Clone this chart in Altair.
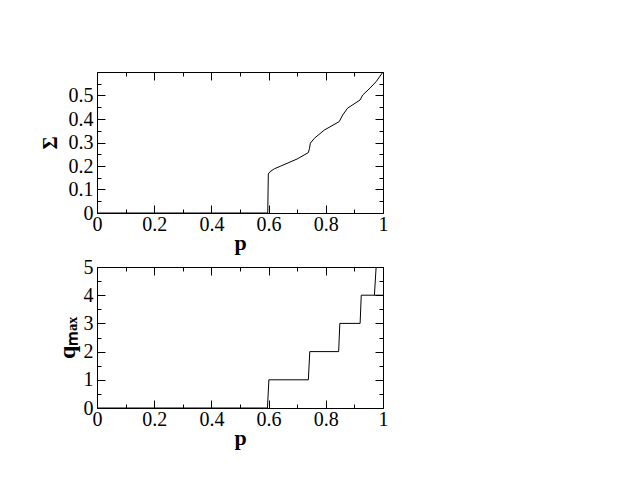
import altair as alt
import pandas as pd

# ---- data ----
p_sigma = [0.0, 0.597, 0.599, 0.605, 0.62, 0.643, 0.70, 0.739, 0.743, 0.746, 0.760,
           0.795, 0.847, 0.859, 0.876, 0.920, 0.929, 0.955, 0.976, 1.0]
sigma = [0.0, 0.0, 0.166, 0.176, 0.188, 0.200, 0.230, 0.257, 0.275, 0.297, 0.318,
         0.353, 0.389, 0.417, 0.446, 0.481, 0.502, 0.532, 0.559, 0.600]

p_q = [0.0, 0.596, 0.601, 0.739, 0.744, 0.845, 0.849, 0.920, 0.924, 1.0]
q_max = [0, 0, 1, 1, 2, 2, 3, 3, 4, 4]
p_q_tail = [0.970, 0.976, 1.0]
q_tail = [4, 5, 5]

x_major = [0, 0.2, 0.4, 0.6, 0.8, 1]
x_minor = [0.1, 0.3, 0.5, 0.7, 0.9]
sig_major = [0, 0.1, 0.2, 0.3, 0.4, 0.5, 0.6]
sig_labels = [0, 0.1, 0.2, 0.3, 0.4, 0.5]
sig_minor = [0.05, 0.15, 0.25, 0.35, 0.45, 0.55]
q_major = [0, 1, 2, 3, 4, 5]
q_minor = [0.5, 1.5, 2.5, 3.5, 4.5]

FONT = "'Liberation Serif', 'Times New Roman', Times, serif"

df_sig = pd.DataFrame({"p": p_sigma, "v": sigma, "s": ["a"] * len(p_sigma)})
df_q = pd.concat([
    pd.DataFrame({"p": p_q, "v": q_max, "s": ["a"] * len(p_q)}),
    pd.DataFrame({"p": p_q_tail, "v": q_tail, "s": ["b"] * len(p_q_tail)}),
], ignore_index=True)


def tick_axis(orient, values, size):
    return alt.Axis(orient=orient, values=values, tickSize=size, offset=-size,
                    labels=False, title=None, domain=False, grid=False,
                    ticks=True, tickColor="black", tickWidth=1)


def panel(df, ydom, ymaj, ymin, ylabvals, ytitle, ytitle_size, ytitle_pad):
    def layer(xaxis, yaxis, opacity):
        return alt.Chart(df).mark_line(color="black", strokeWidth=1,
                                       opacity=opacity, clip=True).encode(
            x=alt.X("p:Q", scale=alt.Scale(domain=[0, 1], nice=False, zero=False),
                    axis=xaxis),
            y=alt.Y("v:Q", scale=alt.Scale(domain=ydom, nice=False, zero=False),
                    axis=yaxis),
            detail="s:N",
        )

    xa = alt.Axis(orient="bottom", values=x_major, tickSize=8, offset=-8,
                  domain=False, grid=False, tickColor="black", tickWidth=1,
                  labelExpr="datum.value + ''", labelFlush=False, labelOverlap=False,
                  labelFont=FONT, labelFontSize=20, labelColor="black", labelPadding=1,
                  title="p", titleFont=FONT, titleFontSize=22, titleFontWeight="bold",
                  titleColor="black", titlePadding=-2)
    ya = alt.Axis(orient="left", values=ylabvals, tickSize=8, offset=-8,
                  domain=False, grid=False, tickColor="black", tickWidth=1,
                  labelExpr="datum.value + ''", labelOverlap=False,
                  labelFont=FONT, labelFontSize=20, labelColor="black", labelPadding=4,
                  title=ytitle, titleFont=FONT, titleFontSize=ytitle_size,
                  titleFontWeight="bold", titleColor="black", titlePadding=ytitle_pad)
    l1 = layer(xa, ya, 1)
    l2 = layer(tick_axis("bottom", x_minor, 4), tick_axis("left", ymin, 4), 0)
    l3 = layer(tick_axis("top", x_major, 8), tick_axis("right", ymaj, 8), 0)
    l4 = layer(tick_axis("top", x_minor, 4), tick_axis("right", ymin, 4), 0)
    return alt.layer(l1, l2, l3, l4).resolve_scale(
        x="independent", y="independent").properties(width=286, height=141)


top = panel(df_sig, [0, 0.6], sig_major, sig_minor, sig_labels, "Σ", 20, 8)
bottom = panel(df_q, [0, 5], q_major, q_minor, q_major, "qₘₐₓ", 24, 4)

chart = alt.vconcat(top, bottom, spacing=2).properties(
    padding={"left": 31, "top": 63, "right": 5, "bottom": 5},
    background="white",
).configure_view(stroke="black", strokeWidth=1)

chart.save("out.html", embed_options={"renderer": "svg", "actions": False})
